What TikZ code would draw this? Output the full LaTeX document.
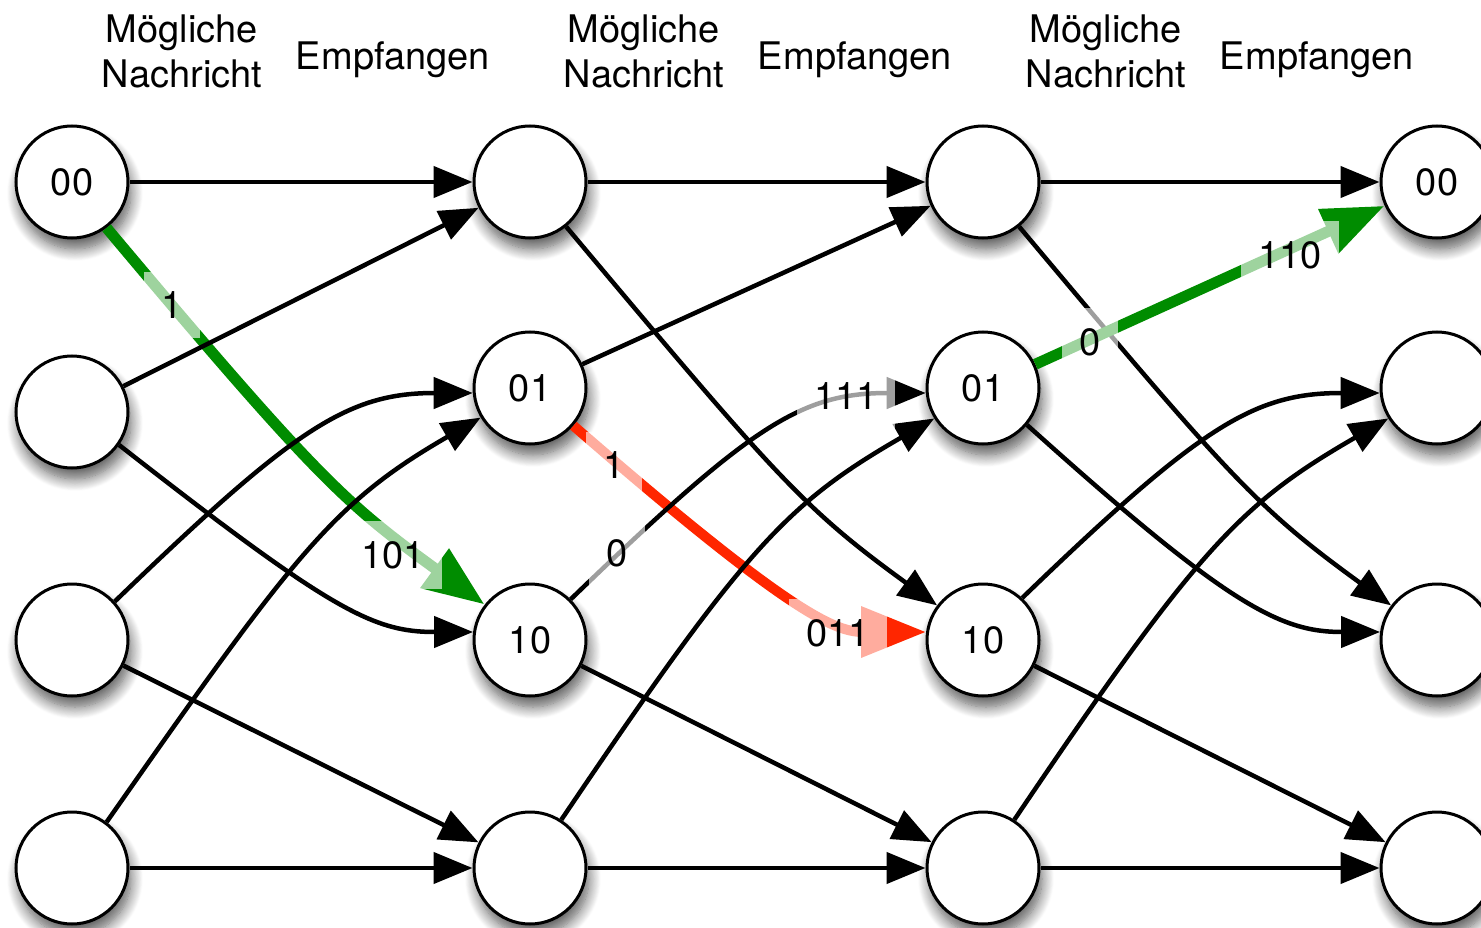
\documentclass[tikz,border=0pt]{standalone}
\usepackage{fontspec}
\setmainfont{TeX Gyre Heros}
\usetikzlibrary{arrows.meta,shadows.blur}
\definecolor{pgreen}{RGB}{0,140,0}
\definecolor{pred}{RGB}{255,38,0}
\newcommand{\bigfnt}{\fontsize{38}{45}\selectfont}
\begin{document}
\begin{tikzpicture}[x=1pt,y=1pt,
  st/.style={circle,draw=black,line width=3pt,fill=white,minimum size=112pt,inner sep=0pt,font=\bigfnt,
     blur shadow={shadow xshift=3pt,shadow yshift=-11pt,shadow blur radius=12pt,shadow blur steps=14,shadow opacity=65}},
  ed/.style={line width=4.5pt,-{Triangle[length=39pt,width=31pt]}},
  gpath/.style={line width=11pt,color=pgreen,-{Triangle[length=62pt,width=46pt]}},
  rpath/.style={line width=10pt,color=pred,-{Triangle[length=65pt,width=49pt]}},
  lbl/.style={fill=white,fill opacity=0.62,text opacity=1,inner xsep=17pt,inner ysep=20pt,font=\bigfnt},
  hdr/.style={font=\bigfnt,align=center}
]
\useasboundingbox (0,0) rectangle (1481,-928);
% nodes
\node[st] (a1) at (72,-182) {00};
\node[st] (a2) at (72,-412) {};
\node[st] (a3) at (72,-640) {};
\node[st] (a4) at (72,-868) {};
\node[st] (b1) at (530,-182) {};
\node[st] (b2) at (530,-388) {01};
\node[st] (b3) at (530,-640) {10};
\node[st] (b4) at (530,-868) {};
\node[st] (c1) at (983,-182) {};
\node[st] (c2) at (983,-388) {01};
\node[st] (c3) at (983,-640) {10};
\node[st] (c4) at (983,-868) {};
\node[st] (d1) at (1437,-182) {00};
\node[st] (d2) at (1437,-388) {};
\node[st] (d3) at (1437,-640) {};
\node[st] (d4) at (1437,-868) {};
% headers
\node[hdr] (h1) at (182,-51) {Mögliche\\Nachricht};
\node[hdr,anchor=base] (h2) at (393,-70) {Empfangen};
\node[hdr] (h3) at (644,-51) {Mögliche\\Nachricht};
\node[hdr,anchor=base] (h4) at (855,-70) {Empfangen};
\node[hdr] (h5) at (1106,-51) {Mögliche\\Nachricht};
\node[hdr,anchor=base] (h6) at (1317,-70) {Empfangen};
% edges column 1 -> 2
\draw[ed] (a1) -- (b1);
\draw[gpath] (a1.-53) .. controls +(-50:330) and +(144:170) .. (b3.142);
\draw[ed] (a2) -- (b1);
\draw[ed] (a2.-35) .. controls +(-38:270) and +(-100,0) .. (b3.172);
\draw[ed] (a3.42) .. controls +(44:250) and +(-125,0) .. (b2.185);
\draw[ed] (a3) -- (b4);
\draw[ed] (a4.53) .. controls +(55:330) and +(210:170) .. (b2.211);
\draw[ed] (a4) -- (b4);
% edges column 2 -> 3
\draw[ed] (b1) -- (c1);
\draw[ed] (b1.-51) .. controls +(-50:330) and +(144:165) .. (c3.143);
\draw[ed] (b2) -- (c1);
\draw[rpath] (b2.-41) .. controls +(-41:290) and +(-90,0) .. (c3.172);
\draw[ed] (b3.45) .. controls +(44:250) and +(-125,0) .. (c2.185);
\draw[ed] (b3) -- (c4);
\draw[ed] (b4.57) .. controls +(56:330) and +(210:170) .. (c2.212);
\draw[ed] (b4) -- (c4);
% edges column 3 -> 4
\draw[ed] (c1) -- (d1);
\draw[ed] (c1.-51) .. controls +(-50:330) and +(144:165) .. (d3.143);
\draw[gpath] (c2) -- (d1);
\draw[ed] (c2.-40) .. controls +(-42:270) and +(-100,0) .. (d3.172);
\draw[ed] (c3.47) .. controls +(44:250) and +(-125,0) .. (d2.185);
\draw[ed] (c3) -- (d4);
\draw[ed] (c4.57) .. controls +(56:330) and +(210:170) .. (d2.212);
\draw[ed] (c4) -- (d4);
% edge labels
\node[lbl] (l1) at (172,-305) {1};
\node[lbl] (l2) at (393,-555) {101};
\node[lbl] (l3) at (614,-465) {1};
\node[lbl] (l4) at (617,-553) {0};
\node[lbl] (l5) at (846,-396) {111};
\node[lbl] (l6) at (838,-633) {011};
\node[lbl] (l7) at (1090,-342) {0};
\node[lbl] (l8) at (1290,-255) {110};
\end{tikzpicture}
\end{document}
